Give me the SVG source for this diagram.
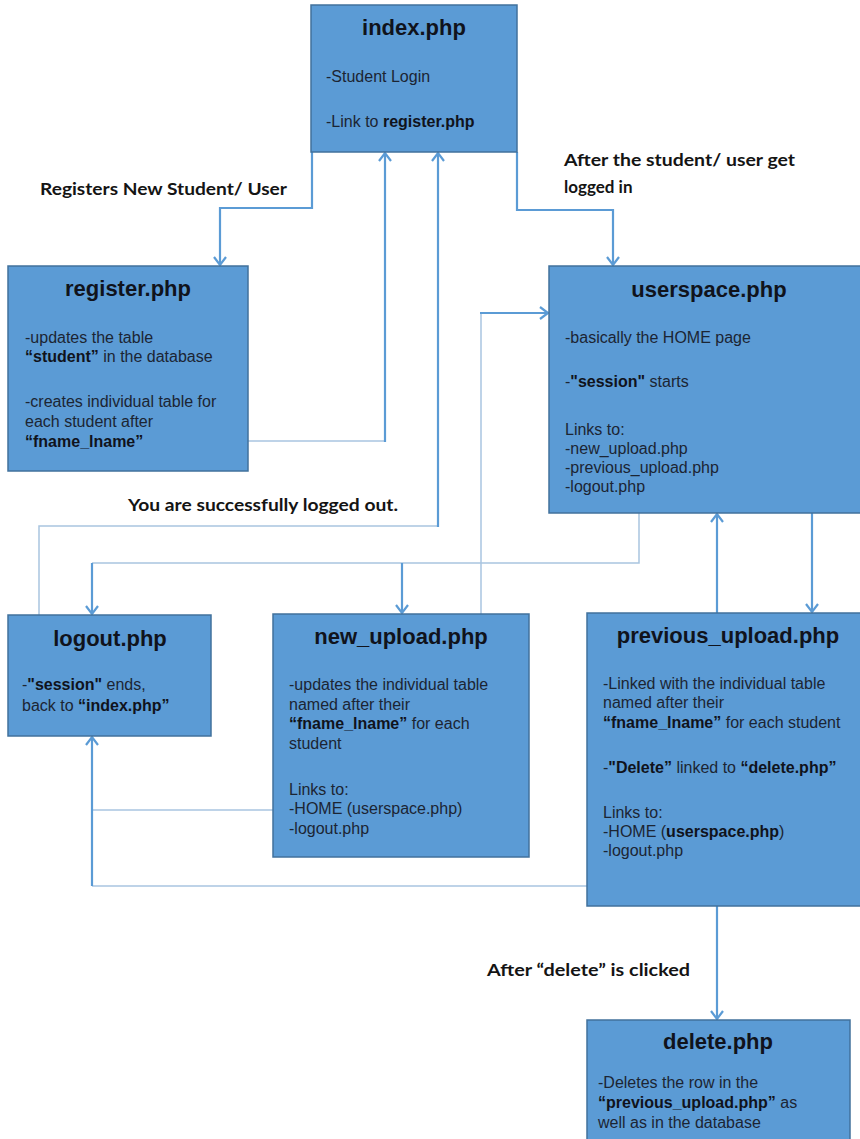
<svg xmlns="http://www.w3.org/2000/svg" width="860" height="1139" viewBox="0 0 860 1139">
<defs>
<marker id="ah" markerUnits="userSpaceOnUse" markerWidth="20" markerHeight="20" refX="0" refY="0" viewBox="-10 -10 20 20" orient="auto" overflow="visible">
<path d="M-8,-6 L0,0 L-8,6" fill="none" stroke="#5b9bd5" stroke-width="2.2"/>
</marker>
<style>
.box{fill:#5b9bd5;stroke:#41719c;stroke-width:1.5}
.title{font-family:"Liberation Sans",Arial,sans-serif;font-weight:bold;font-size:22px;fill:#10131c;text-anchor:middle}
.body{font-family:"Liberation Sans",Arial,sans-serif;font-size:16px;fill:#1c2533}
.b{font-weight:bold;fill:#10131c}
.lbl{font-family:Lato,"Open Sans",sans-serif;font-weight:bold;font-size:17px;fill:#141414}
.thick{fill:none;stroke:#5b9bd5;stroke-width:2.2}
.thin{fill:none;stroke:#a9c5e0;stroke-width:1.5}
</style>
</defs>
<rect width="860" height="1139" fill="#ffffff"/>

<g id="connectors">
<path class="thick" d="M312,152 V208 H220 V265" marker-end="url(#ah)"/>
<path class="thick" d="M517,152 V210 H613 V265" marker-end="url(#ah)"/>
<path class="thin" d="M248,441 H385"/>
<path class="thick" d="M385,442 V153" marker-end="url(#ah)"/>
<path class="thin" d="M39,615 V526 H438"/>
<path class="thick" d="M438,527 V153" marker-end="url(#ah)"/>
<path class="thin" d="M481,614 V313"/>
<path class="thick" d="M480,313 H548" marker-end="url(#ah)"/>
<path class="thin" d="M639,513 V563 H92"/>
<path class="thick" d="M92,563 V614" marker-end="url(#ah)"/>
<path class="thick" d="M402,563 V613" marker-end="url(#ah)"/>
<path class="thick" d="M717,613 V514" marker-end="url(#ah)"/>
<path class="thick" d="M812,513 V612" marker-end="url(#ah)"/>
<path class="thin" d="M273,810 H92"/>
<path class="thin" d="M587,886 H92"/>
<path class="thick" d="M92,886 V737" marker-end="url(#ah)"/>
<path class="thick" d="M717,906 V1019" marker-end="url(#ah)"/>
</g>

<g id="labels">
<text class="lbl" x="40" y="195" textLength="247" lengthAdjust="spacingAndGlyphs">Registers New Student/ User</text>
<text class="lbl" x="564" y="166" textLength="231" lengthAdjust="spacingAndGlyphs">After the student/ user get</text>
<text class="lbl" x="564" y="193">logged in</text>
<text class="lbl" x="128" y="511" textLength="270" lengthAdjust="spacingAndGlyphs">You are successfully logged out.</text>
<text class="lbl" x="487" y="976" textLength="203" lengthAdjust="spacingAndGlyphs">After “delete” is clicked</text>
</g>

<g id="index">
<rect class="box" x="311" y="5" width="206" height="147"/>
<text class="title" x="414" y="35">index.php</text>
<text class="body" x="326" y="82">-Student Login</text>
<text class="body" x="326" y="127">-Link to <tspan class="b">register.php</tspan></text>
</g>

<g id="register">
<rect class="box" x="8" y="266" width="240" height="205"/>
<text class="title" x="128" y="296">register.php</text>
<text class="body" x="25" y="343">-updates the table</text>
<text class="body" x="25" y="362"><tspan class="b">“student”</tspan> in the database</text>
<text class="body" x="25" y="407">-creates individual table for</text>
<text class="body" x="25" y="427">each student after</text>
<text class="body" x="25" y="447"><tspan class="b">“fname_lname”</tspan></text>
</g>

<g id="userspace">
<rect class="box" x="549" y="266" width="320" height="247"/>
<text class="title" x="709" y="297">userspace.php</text>
<text class="body" x="565" y="343">-basically the HOME page</text>
<text class="body" x="565" y="387">-<tspan class="b">"session"</tspan> starts</text>
<text class="body" x="565" y="435">Links to:</text>
<text class="body" x="565" y="454">-new_upload.php</text>
<text class="body" x="565" y="473">-previous_upload.php</text>
<text class="body" x="565" y="492">-logout.php</text>
</g>

<g id="logout">
<rect class="box" x="8" y="615" width="203" height="121"/>
<text class="title" x="110" y="646">logout.php</text>
<text class="body" x="22" y="690">-<tspan class="b">"session"</tspan> ends,</text>
<text class="body" x="22" y="711">back to <tspan class="b">“index.php”</tspan></text>
</g>

<g id="new_upload">
<rect class="box" x="273" y="614" width="256" height="243"/>
<text class="title" x="401" y="644">new_upload.php</text>
<text class="body" x="289" y="690">-updates the individual table</text>
<text class="body" x="289" y="710">named after their</text>
<text class="body" x="289" y="729"><tspan class="b">“fname_lname”</tspan> for each</text>
<text class="body" x="289" y="749">student</text>
<text class="body" x="289" y="795">Links to:</text>
<text class="body" x="289" y="814">-HOME (userspace.php)</text>
<text class="body" x="289" y="834">-logout.php</text>
</g>

<g id="previous_upload">
<rect class="box" x="587" y="613" width="282" height="293"/>
<text class="title" x="728" y="643">previous_upload.php</text>
<text class="body" x="603" y="689">-Linked with the individual table</text>
<text class="body" x="603" y="708">named after their</text>
<text class="body" x="603" y="728"><tspan class="b">“fname_lname”</tspan> for each student</text>
<text class="body" x="603" y="773">-<tspan class="b">"Delete”</tspan> linked to <tspan class="b">“delete.php”</tspan></text>
<text class="body" x="603" y="818">Links to:</text>
<text class="body" x="603" y="837">-HOME (<tspan class="b">userspace.php</tspan>)</text>
<text class="body" x="603" y="856">-logout.php</text>
</g>

<g id="delete">
<rect class="box" x="587" y="1020" width="263" height="130"/>
<text class="title" x="718" y="1049">delete.php</text>
<text class="body" x="598" y="1088">-Deletes the row in the</text>
<text class="body" x="598" y="1108"><tspan class="b">“previous_upload.php”</tspan> as</text>
<text class="body" x="598" y="1128">well as in the database</text>
</g>
</svg>
